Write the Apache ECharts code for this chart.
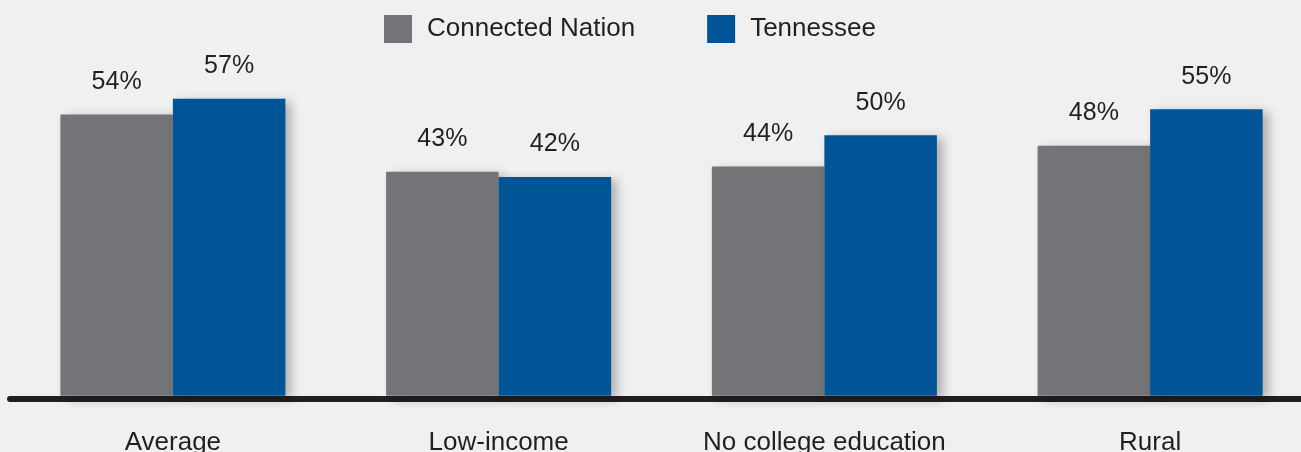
<!DOCTYPE html>
<html>
<head>
<meta charset="utf-8">
<script src="https://cdn.jsdelivr.net/npm/echarts@6/dist/echarts.min.js"></script>
<style>
html,body{margin:0;padding:0;background:#f0f0f0;overflow:hidden;width:1301px;height:452px;}
#chart{width:1313px;height:452px;}
</style>
</head>
<body>
<div id="chart"></div>
<script>
const categories = ['Average', 'Low-income', 'No college education', 'Rural'];
const seriesNames = ['Connected Nation', 'Tennessee'];
const connectedNation = [54, 43, 44, 48];
const tennessee = [57, 42, 50, 55];

const chart = echarts.init(document.getElementById('chart'));
const FONT = 'Arial, "Liberation Sans", sans-serif';
const shadow = {shadowColor: 'rgba(0,0,0,0.28)', shadowBlur: 10, shadowOffsetX: 6, shadowOffsetY: 3};
chart.setOption({
  backgroundColor: '#f0f0f0',
  animation: false,
  legend: {
    top: 10, left: 379,
    itemWidth: 28, itemHeight: 28, itemGap: 72,
    icon: 'rect',
    textStyle: {fontFamily: FONT, fontSize: 26, color: '#231f20', padding: [0, 0, 0, 10]},
    data: seriesNames
  },
  grid: {left: 10, right: 0, top: 5, bottom: 53, containLabel: false, outerBoundsMode: 'none'},
  xAxis: {
    type: 'category', data: categories,
    axisLine: {onZero: false, lineStyle: {color: '#231f20', width: 6}},
    axisTick: {show: false},
    axisLabel: {fontFamily: FONT, fontSize: 26, color: '#231f20', margin: 31}
  },
  yAxis: {type: 'value', min: -0.6, max: 75, show: false, splitLine: {show: false}},
  series: [
    {
      name: seriesNames[0], type: 'bar', data: connectedNation,
      barWidth: 112.5, barGap: '0%',
      itemStyle: Object.assign({color: '#737477'}, shadow),
      label: {show: true, position: 'top', distance: 20, formatter: '{c}%', fontFamily: FONT, fontSize: 25, color: '#231f20'}
    },
    {
      name: seriesNames[1], type: 'bar', data: tennessee,
      barWidth: 112.5, barGap: '0%',
      itemStyle: Object.assign({color: '#005596'}, shadow),
      label: {show: true, position: 'top', distance: 20, formatter: '{c}%', fontFamily: FONT, fontSize: 25, color: '#231f20'}
    }
  ]
});
</script>
</body>
</html>
